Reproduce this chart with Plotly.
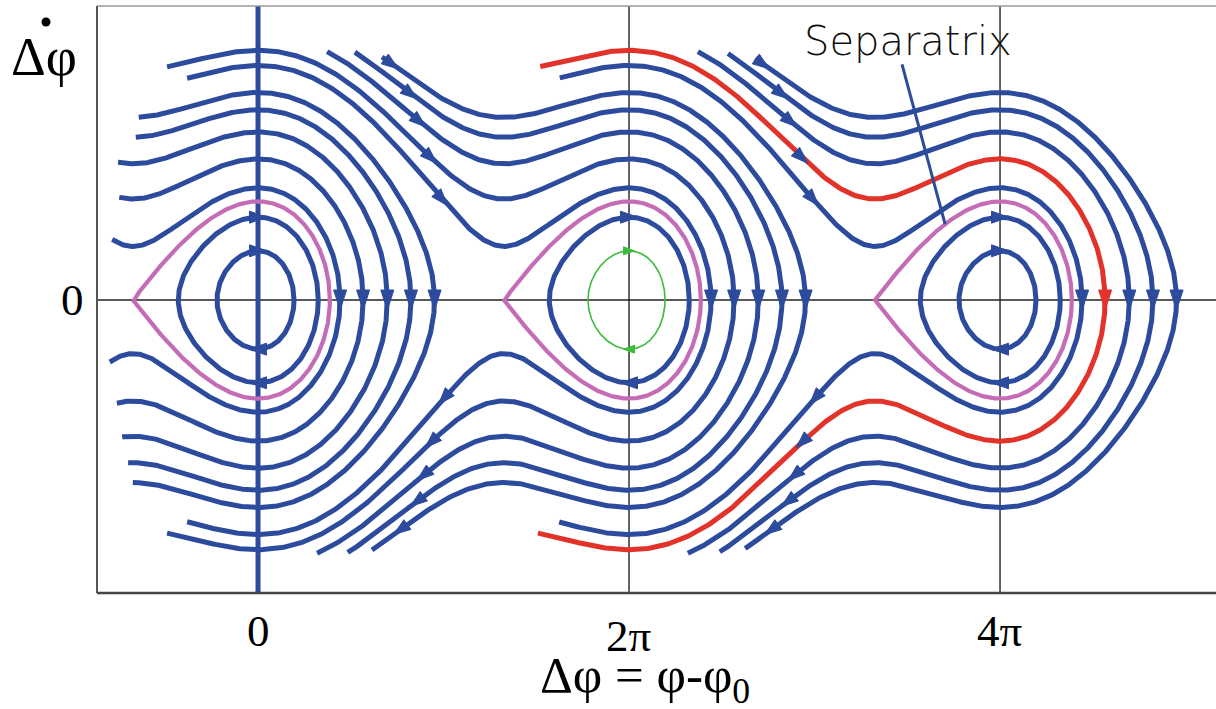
import numpy as np
import plotly.graph_objects as go

# ---------------- values ----------------
TICK_VALUES = [0.0, 2 * np.pi, 4 * np.pi]
TICK_LABELS = ["0", "2π", "4π"]
BUCKET_CENTERS = [0.0, 2 * np.pi, 4 * np.pi]      # stable fixed points

# sin(phi_s): fixes the cusp / bucket shape (cusp ~2.12 rad left of the centre)
SYNC_A = 0.49

# right turning points (rad after the bucket centre) of the 5 open trajectories
OPEN_TURN = [1.39, 1.78, 2.19, 2.59, 2.99]
# left ends (rad) of the upper and lower branches, one row per bucket family
OPEN_UPPER_END = [[-2.47, -2.35, -2.37, -2.07, -2.02],
                  [-1.20, -1.54, 1.17, 1.64, 2.10],
                  [5.11, 4.78, 7.45, 7.96, 8.42]]
OPEN_LOWER_END = [[-2.51, -2.39, -2.30, -2.20, -2.12],
                  [-1.20, -1.54, 1.00, 1.52, 1.93],
                  [5.10, 4.74, 7.28, 7.82, 8.25]]
RED_CURVE = (2, 1)                                  # (family, index) drawn red

# closed orbits inside each bucket: right turning points (rad after centre)
INNER_TURN = [0.61, 1.02]
INNER_KIND = [["blue", "blue"], ["green", "blue"], ["blue", "blue"]]

# arrow heads on the sloping branches (rad relative to bucket centre)
ARROW_FAMILIES = [1, 2]
ARROW_UP_OFF = [-3.17, -3.36, -3.55, -3.70, -4.02]
ARROW_LO_OFF = [-3.13, -3.35, -3.48, -3.59, -3.87]

# ---------------- styling ----------------
BLUE = "#2C4B9C"
MAG = "#C46DB6"
RED = "#E2332B"
GREEN = "#3DBB3D"
SERIF = "Liberation Serif, Times New Roman, serif"
LW = 5

W, H = 1216, 709
L_PX, R_PX, T_PX, B_PX = 97, 1216, 6, 593
X_RANGE = [-2.727, 16.224]
Y_RANGE = [-3.530, 3.542]
SX = (R_PX - L_PX) / (X_RANGE[1] - X_RANGE[0])     # px per rad
SY = (B_PX - T_PX) / (Y_RANGE[1] - Y_RANGE[0])     # px per unit

# arrow head sizes in px: (length, width)
HEAD_ZERO = (20, 13)
HEAD_STD = (17, 12)
HEAD_GREEN = (11, 8)

# ---------------- model of the phase plane ----------------
PHI0 = np.arcsin(SYNC_A)
PHI_U = 2 * PHI0 - np.pi                            # unstable point (rel.)


def U(phi):
    return -np.cos(phi - PHI0) + SYNC_A * phi


def dU(phi):
    return np.sin(phi - PHI0) + SYNC_A


def p_of(phi, h):
    return np.sqrt(np.clip(2 * (h - U(phi)), 0, None))


def left_turn(c, h):
    lo, hi = c + PHI_U, c
    for _ in range(80):
        mid = 0.5 * (lo + hi)
        if U(mid) > h:
            lo = mid
        else:
            hi = mid
    return 0.5 * (lo + hi)


def open_curve(phi_t, end_up, end_lo, n=600):
    h = U(phi_t)
    u = np.linspace(0, 1, n)
    phi_up = phi_t - (phi_t - end_up) * (1 - u) ** 2
    phi_lo = phi_t - (phi_t - end_lo) * u ** 2
    x = np.concatenate([phi_up, phi_lo[1:]])
    y = np.concatenate([p_of(phi_up, h), -p_of(phi_lo[1:], h)])
    return x, y


def closed_curve(c, phi_r, n=500):
    h = U(phi_r)
    phi_l = left_turn(c, h)
    th = np.linspace(0, 2 * np.pi, n)
    mid, half = 0.5 * (phi_r + phi_l), 0.5 * (phi_r - phi_l)
    x = mid + half * np.cos(th)
    y = p_of(x, h) * np.where(th <= np.pi, 1, -1)
    return x, y


fig = go.Figure()


def add_line(x, y, color, width):
    fig.add_trace(go.Scatter(x=x, y=y, mode="lines", hoverinfo="skip",
                             showlegend=False,
                             line=dict(color=color, width=width, shape="linear")))


heads = {BLUE: ([], []), RED: ([], []), GREEN: ([], [])}


def add_arrow(phi, p, color, head):
    """Triangle arrow head centred on the trajectory point, along the flow."""
    L, Wd = head
    dx, dy = p * SX, dU(phi) * SY            # screen direction (y down)
    n = np.hypot(dx, dy)
    ux, uy = dx / n, dy / n
    vx, vy = -uy, ux
    pts = [(0.5 * L * ux, 0.5 * L * uy),
           (-0.5 * L * ux + 0.5 * Wd * vx, -0.5 * L * uy + 0.5 * Wd * vy),
           (-0.5 * L * ux - 0.5 * Wd * vx, -0.5 * L * uy - 0.5 * Wd * vy),
           (0.5 * L * ux, 0.5 * L * uy)]
    xs, ys = heads[color]
    for ox, oy in pts:
        xs.append(phi + ox / SX)
        ys.append(p - oy / SY)
    xs.append(None)
    ys.append(None)


red_data = None
for k, c in enumerate(BUCKET_CENTERS):
    for j, off in enumerate(OPEN_TURN):
        phi_t = c + off
        x, y = open_curve(phi_t, OPEN_UPPER_END[k][j], OPEN_LOWER_END[k][j])
        if (k, j) == RED_CURVE:
            red_data = (x, y)
            add_arrow(phi_t, 0.0, RED, HEAD_ZERO)
        else:
            add_line(x, y, BLUE, LW)
            add_arrow(phi_t, 0.0, BLUE, HEAD_ZERO)
    for i, off in enumerate(INNER_TURN):
        if INNER_KIND[k][i] == "blue":
            x, y = closed_curve(c, c + off)
            add_line(x, y, BLUE, LW)
            h = U(c + off)
            add_arrow(c, p_of(c, h), BLUE, HEAD_STD)
            add_arrow(c, -p_of(c, h), BLUE, HEAD_STD)

# separatrix loops
for c in BUCKET_CENTERS:
    h = U(c + PHI_U)
    lo, hi = c, c + 3.0
    for _ in range(80):
        mid = 0.5 * (lo + hi)
        if U(mid) < h:
            lo = mid
        else:
            hi = mid
    x, y = closed_curve(c, 0.5 * (lo + hi), n=800)
    add_line(x, y, MAG, 4.2)

# red trajectory
add_line(red_data[0], red_data[1], RED, LW)

# green small orbit
for k, c in enumerate(BUCKET_CENTERS):
    for i, off in enumerate(INNER_TURN):
        if INNER_KIND[k][i] == "green":
            x, y = closed_curve(c, c + off)
            add_line(x, y, GREEN, 1.6)
            h = U(c + off)
            add_arrow(c, p_of(c, h), GREEN, HEAD_GREEN)
            add_arrow(c, -p_of(c, h), GREEN, HEAD_GREEN)

# arrows on the sloping branches
for k in ARROW_FAMILIES:
    c = BUCKET_CENTERS[k]
    for j, off in enumerate(OPEN_TURN):
        h = U(c + off)
        phi = c + ARROW_UP_OFF[j]
        add_arrow(phi, p_of(phi, h), BLUE, HEAD_STD)
        phi = c + ARROW_LO_OFF[j]
        add_arrow(phi, -p_of(phi, h), BLUE, HEAD_STD)

for color, (xs, ys) in heads.items():
    fig.add_trace(go.Scatter(x=xs, y=ys, mode="lines", fill="toself",
                             fillcolor=color, line=dict(color=color, width=1),
                             hoverinfo="skip", showlegend=False))


def px_x(px):
    return (px - L_PX) / (R_PX - L_PX)


def px_y(py):
    return (B_PX - py) / (B_PX - T_PX)


shapes = []
# reference lines
shapes.append(dict(type="line", xref="paper", yref="y", x0=0, x1=1, y0=0, y1=0,
                   line=dict(color="#222", width=1.4), layer="below"))
for v in TICK_VALUES[1:]:
    shapes.append(dict(type="line", xref="x", yref="paper", x0=v, x1=v, y0=0, y1=1,
                       line=dict(color="#222", width=1.4), layer="below"))
shapes.append(dict(type="line", xref="x", yref="paper", x0=0, x1=0, y0=0, y1=1,
                   line=dict(color=BLUE, width=LW), layer="below"))
# frame
shapes.append(dict(type="line", xref="paper", yref="paper", x0=0, x1=1, y0=1, y1=1,
                   line=dict(color="#9a9a9a", width=1.5)))
shapes.append(dict(type="line", xref="paper", yref="paper", x0=0, x1=0, y0=0, y1=1,
                   line=dict(color="#555", width=2)))
shapes.append(dict(type="line", xref="paper", yref="paper", x0=0, x1=1, y0=0, y1=0,
                   line=dict(color="#444", width=2.5)))
# pointer of the "Separatrix" label, ending on the separatrix of the 4π bucket
c3 = BUCKET_CENTERS[2]
ptr_phi = c3 - 0.93
ptr_p = p_of(ptr_phi, U(c3 + PHI_U))
shapes.append(dict(type="line", xref="x", yref="y", x0=c3 - 1.66, y0=2.84,
                   x1=ptr_phi, y1=ptr_p, line=dict(color=BLUE, width=3)))
# dot of the time derivative on the y label
shapes.append(dict(type="circle", xref="paper", yref="paper",
                   xsizemode="pixel", ysizemode="pixel",
                   xanchor=px_x(46), yanchor=px_y(22),
                   x0=-4.5, x1=4.5, y0=-4.5, y1=4.5,
                   fillcolor="black", line=dict(width=0)))

annotations = []
tick_y_px = [631, 636, 631]
for v, lab, ty in zip(TICK_VALUES, TICK_LABELS, tick_y_px):
    annotations.append(dict(x=v, xref="x", y=px_y(ty), yref="paper", text=lab,
                            showarrow=False, xanchor="center", yanchor="middle",
                            font=dict(family=SERIF, size=45, color="black")))
annotations.append(dict(x=px_x(72), xref="paper", y=0, yref="y", text="0",
                        showarrow=False, xanchor="center", yanchor="middle",
                        font=dict(family=SERIF, size=45, color="black")))
annotations.append(dict(x=px_x(44), xref="paper", y=px_y(57), yref="paper", text="Δφ",
                        showarrow=False, xanchor="center", yanchor="middle",
                        font=dict(family=SERIF, size=54, color="black")))
annotations.append(dict(x=px_x(645), xref="paper", y=px_y(679), yref="paper",
                        text="Δφ = φ-φ<sub>0</sub>",
                        showarrow=False, xanchor="center", yanchor="middle",
                        font=dict(family=SERIF, size=51, color="black")))
annotations.append(dict(x=px_x(908), xref="paper", y=px_y(41), yref="paper",
                        text="Separatrix", showarrow=False,
                        xanchor="center", yanchor="middle",
                        font=dict(family="DejaVu Sans, sans-serif", size=40,
                                  color="#111", weight=300)))

fig.update_layout(
    width=W, height=H,
    margin=dict(l=L_PX, r=W - R_PX, t=T_PX, b=H - B_PX, pad=0),
    paper_bgcolor="white", plot_bgcolor="white",
    xaxis=dict(range=X_RANGE, visible=False, fixedrange=True),
    yaxis=dict(range=Y_RANGE, visible=False, fixedrange=True),
    shapes=shapes, annotations=annotations, showlegend=False,
)

fig.write_html(
    "out.html",
    config={"displayModeBar": False, "staticPlot": True},
    post_script="document.body.style.margin='0';document.body.style.padding='0';"
                "document.body.style.overflow='hidden';",
)
